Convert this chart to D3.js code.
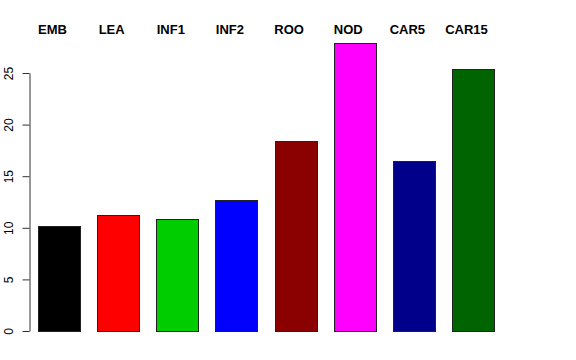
<!DOCTYPE html>
<html>
<head>
<meta charset="utf-8">
<script src="https://cdn.jsdelivr.net/npm/d3@7"></script>
<style>
  body { margin: 0; background: #fff; }
  text { font-family: "Liberation Sans", Arial, Helvetica, sans-serif; }
</style>
</head>
<body>
<div id="chart"></div>
<script>
// chart data
var tissues = ["EMB", "LEA", "INF1", "INF2", "ROO", "NOD", "CAR5", "CAR15"];
var values = [10.15, 11.25, 10.9, 12.65, 18.4, 27.9, 16.5, 25.4];
var barColors = ["#000000", "#FF0000", "#00CD00", "#0000FF", "#8B0000", "#FF00FF", "#00008B", "#006400"];
var yTicks = [0, 5, 10, 15, 20, 25];

var width = 576, height = 360;

var svg = d3.select("#chart")
    .append("svg")
    .attr("width", width)
    .attr("height", height);

// scales
var x = d3.scaleBand()
    .domain(tissues)
    .range([38, 494])
    .paddingInner(0.29)
    .paddingOuter(0);

var y = d3.scaleLinear()
    .domain([0, 25])
    .range([331, 73]);

// bars
svg.append("g")
    .selectAll("rect")
    .data(tissues)
    .enter()
    .append("rect")
    .attr("x", function(d) { return Math.round(x(d)) + 0.5; })
    .attr("y", function(d, i) { return Math.round(y(values[i])) + 0.5; })
    .attr("width", Math.round(x.bandwidth()))
    .attr("height", function(d, i) { return Math.round(y(0)) - Math.round(y(values[i])); })
    .attr("fill", function(d, i) { return barColors[i]; })
    .attr("stroke", "#222")
    .attr("stroke-width", 1);

// labels on top
svg.append("g")
    .selectAll("text")
    .data(tissues)
    .enter()
    .append("text")
    .attr("x", function(d) { return x(d) + x.bandwidth() / 2 - 6.5; })
    .attr("y", 34)
    .attr("text-anchor", "middle")
    .attr("font-weight", "bold")
    .attr("font-size", "13px")
    .text(function(d) { return d; });

// y axis, R style
var yAxis = d3.axisLeft(y)
    .tickValues(yTicks)
    .tickSize(7)
    .tickPadding(10)
    .tickSizeOuter(0);

var gy = svg.append("g")
    .attr("transform", "translate(29.5,0)")
    .call(yAxis);

gy.select(".domain").attr("stroke", "#333");
gy.selectAll(".tick line").attr("stroke", "#333");
gy.selectAll(".tick text")
    .attr("font-size", "12px")
    .attr("fill", "#000")
    .attr("transform", "rotate(-90)")
    .attr("x", 0)
    .attr("y", -12)
    .attr("dy", "0")
    .attr("text-anchor", "middle")
    .each(function() {
        // rotated labels sit around the tick
    });
gy.selectAll(".tick text")
    .attr("transform", function() { return "translate(-17,0) rotate(-90)"; })
    .attr("y", 0);
</script>
</body>
</html>
